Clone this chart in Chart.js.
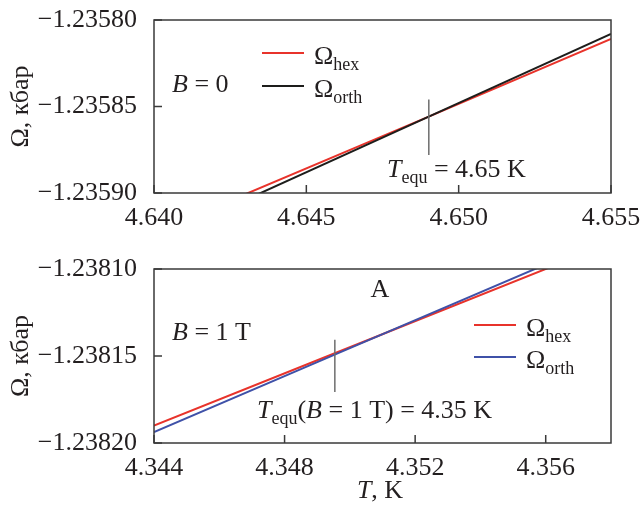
<!DOCTYPE html>
<html>
<head>
<meta charset="utf-8">
<script src="https://cdn.jsdelivr.net/npm/chart.js@4.4.1/dist/chart.umd.min.js"></script>
<style>
  body { margin: 0; background: #fff; }
  #wrap { position: relative; width: 641px; height: 508px; }
  canvas { position: absolute; left: 0; }
</style>
</head>
<body>
<div id="wrap">
  <canvas id="topChart" width="641" height="250" style="top:0"></canvas>
  <canvas id="botChart" width="641" height="258" style="top:250px"></canvas>
</div>
<script>
// panel 1: B = 0
const topT = [4.640, 4.649, 4.655];
const topHex = [-1.235923, -1.235856, -1.235811];
const topOrth = [-1.235928, -1.235856, -1.235808];
const topMarkT = [4.64902, 4.64902];
const topMarkOmega = [-1.235846, -1.235878];
const topXTicks = [4.640, 4.645, 4.650, 4.655];
const topYTicks = [-1.23590, -1.23585, -1.23580];

// panel 2: B = 1 T
const botT = [4.344, 4.3495, 4.358];
const botHex = [-1.238190, -1.2381487, -1.238085];
const botOrth = [-1.2381937, -1.2381495, -1.2380813];
const botMarkT = [4.34954, 4.34954];
const botMarkOmega = [-1.2381407, -1.2381707];
const botXTicks = [4.344, 4.348, 4.352, 4.356];
const botYTicks = [-1.23820, -1.23815, -1.23810];

const FONT = '"Liberation Serif", "Times New Roman", serif';
const RED = '#e8332b', BLACK = '#1d1d1b', BLUE = '#3f51a8', GREY = '#6e6e6e', AXIS = '#3a3a3a', TXT = '#231f20';
const FS = 26, SUB = 18;

function pts(xs, ys) { return xs.map((x, i) => ({ x: x, y: ys[i] })); }

// text made of runs: {t, it, sub}
function drawRuns(ctx, x, y, parts, align) {
  const fontOf = p => (p.it ? 'italic ' : '') + (p.sub ? SUB : FS) + 'px ' + FONT;
  let w = 0;
  parts.forEach(p => { ctx.font = fontOf(p); w += ctx.measureText(p.t).width; });
  let cx = align === 'center' ? x - w / 2 : x;
  ctx.fillStyle = TXT;
  ctx.textBaseline = 'alphabetic';
  ctx.textAlign = 'left';
  parts.forEach(p => {
    ctx.font = fontOf(p);
    ctx.fillText(p.t, cx, p.sub ? y + 6 : y);
    cx += ctx.measureText(p.t).width;
  });
}

const boxPlugin = {
  id: 'box',
  afterDraw(chart, args, opts) {
    const { ctx, chartArea: a } = chart;
    const x = chart.scales.x, y = chart.scales.y;
    ctx.save();
    ctx.strokeStyle = AXIS;
    ctx.lineWidth = 1.5;
    ctx.strokeRect(a.left, a.top, a.right - a.left, a.bottom - a.top);
    ctx.beginPath();
    x.ticks.forEach(t => {
      const px = x.getPixelForValue(t.value);
      ctx.moveTo(px, a.bottom); ctx.lineTo(px, a.bottom - 8);
    });
    y.ticks.forEach(t => {
      const py = y.getPixelForValue(t.value);
      ctx.moveTo(a.left, py); ctx.lineTo(a.left + 8, py);
    });
    ctx.stroke();
    (opts.keys || []).forEach(k => {
      ctx.strokeStyle = k.color;
      ctx.lineWidth = 2;
      ctx.beginPath();
      ctx.moveTo(k.x, k.y); ctx.lineTo(k.x + 42, k.y);
      ctx.stroke();
      drawRuns(ctx, k.x + 52, k.y + 11, [{ t: 'Ω' }, { t: k.sub, sub: true }]);
    });
    (opts.labels || []).forEach(l => drawRuns(ctx, l.x, l.y, l.parts, l.align));
    ctx.restore();
  }
};

function scalesFor(xTicks, xMax, yTicks, xHeight) {
  return {
    x: {
      type: 'linear', min: xTicks[0], max: xMax,
      afterBuildTicks: s => { s.ticks = xTicks.map(v => ({ value: v })); },
      afterFit: s => { s.height = xHeight; s.paddingLeft = 0; s.paddingRight = 0; },
      grid: { display: false }, border: { display: false },
      ticks: { padding: 2, color: TXT, maxRotation: 0, autoSkip: false,
        font: { family: FONT, size: FS }, callback: v => v.toFixed(3) }
    },
    y: {
      type: 'linear', min: yTicks[0], max: yTicks[yTicks.length - 1],
      afterBuildTicks: s => { s.ticks = yTicks.map(v => ({ value: v })); },
      afterFit: s => { s.width = 154; s.paddingTop = 0; s.paddingBottom = 0; },
      grid: { display: false }, border: { display: false },
      ticks: { padding: 9, color: TXT, font: { family: FONT, size: FS },
        callback: v => '\u2212' + Math.abs(v).toFixed(5) },
      title: { display: true, text: 'Ω, кбар', color: TXT, padding: { top: 6, bottom: 0 },
        font: { family: FONT, size: FS } }
    }
  };
}

function lineSet(xs, ys, color, w) {
  return { data: pts(xs, ys), borderColor: color, borderWidth: w, pointRadius: 0, tension: 0, fill: false };
}

new Chart(document.getElementById('topChart'), {
  type: 'line',
  data: {
    datasets: [
      lineSet(topMarkT, topMarkOmega, GREY, 1.5),
      lineSet(topT, topOrth, BLACK, 2),
      lineSet(topT, topHex, RED, 2)
    ]
  },
  options: {
    responsive: false, animation: false, devicePixelRatio: 1,
    layout: { padding: { left: 0, top: 20, right: 30, bottom: 0 } },
    scales: scalesFor(topXTicks, topXTicks[topXTicks.length - 1], topYTicks, 57),
    plugins: {
      legend: { display: false }, tooltip: { enabled: false },
      box: {
        keys: [{ x: 262, y: 53, color: RED, sub: 'hex' }, { x: 262, y: 86, color: BLACK, sub: 'orth' }],
        labels: [
          { x: 172, y: 92, parts: [{ t: 'B', it: true }, { t: ' = 0' }] },
          { x: 387, y: 177, parts: [{ t: 'T', it: true }, { t: 'equ', sub: true }, { t: ' = 4.65 K' }] }
        ]
      }
    }
  },
  plugins: [boxPlugin]
});

new Chart(document.getElementById('botChart'), {
  type: 'line',
  data: {
    datasets: [
      lineSet(botMarkT, botMarkOmega, GREY, 1.5),
      lineSet(botT, botOrth, BLUE, 2),
      lineSet(botT, botHex, RED, 2)
    ]
  },
  options: {
    responsive: false, animation: false, devicePixelRatio: 1,
    layout: { padding: { left: 0, top: 19, right: 30, bottom: 0 } },
    scales: scalesFor(botXTicks, 4.358, botYTicks, 65),
    plugins: {
      legend: { display: false }, tooltip: { enabled: false },
      box: {
        keys: [{ x: 474, y: 75, color: RED, sub: 'hex' }, { x: 474, y: 107, color: BLUE, sub: 'orth' }],
        labels: [
          { x: 380, y: 47, align: 'center', parts: [{ t: 'A' }] },
          { x: 172, y: 90, parts: [{ t: 'B', it: true }, { t: ' = 1 T' }] },
          { x: 257, y: 168, parts: [{ t: 'T', it: true }, { t: 'equ', sub: true }, { t: '(' },
            { t: 'B', it: true }, { t: ' = 1 T) = 4.35 K' }] },
          { x: 380, y: 248, align: 'center', parts: [{ t: 'T', it: true }, { t: ', K' }] }
        ]
      }
    }
  },
  plugins: [boxPlugin]
});
</script>
</body>
</html>
